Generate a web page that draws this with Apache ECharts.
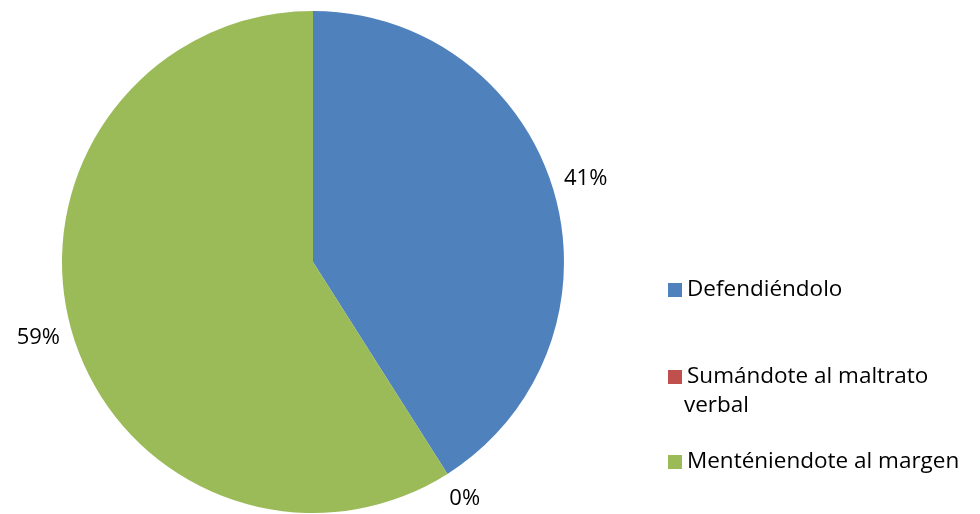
<!DOCTYPE html>
<html>
<head>
<meta charset="utf-8">
<script src="https://cdn.jsdelivr.net/npm/echarts@6/dist/echarts.min.js"></script>
<style>
html,body{margin:0;padding:0;background:#fff;}
#pie1{width:980px;height:514px;}
</style>
</head>
<body>
<div id="pie1"></div>
<script>
// datos del gráfico
var categorias = ['Defendiéndolo', 'Sumándote al maltrato verbal', 'Menténiendote al margen'];
var valores = [41, 0, 59];
var colores = ['#4F81BD', '#C0504D', '#9BBB59'];

(function(){

var pie1 = echarts.init(document.getElementById('pie1'));
var fuente = 'Open Sans';

var datos = categorias.map(function(c, i){
    return {value: valores[i], name: c, itemStyle: {color: colores[i]}};
});

function leyenda(i, top, texto){
    return {
        orient: 'vertical',
        left: 663,
        top: top,
        itemWidth: 14,
        itemHeight: 14,
        icon: 'rect',
        selectedMode: false,
        data: [categorias[i]],
        formatter: function(){ return texto; },
        textStyle: {fontFamily: fuente, fontSize: 22.5, color: '#000', lineHeight: 24}
    };
}

var option = {
    animation: false,
    legend: [
        leyenda(0, 273, 'Defendiéndolo'),
        leyenda(1, 360, 'Sumándote al maltrato'),
        leyenda(2, 445, 'Menténiendote al margen')
    ],
    graphic: [{
        type: 'text',
        left: 684,
        top: 394,
        style: {text: 'verbal', fontFamily: fuente, fontSize: 22.5, fill: '#000'}
    }],
    series: [
        {
            name: 'pie',
            type: 'pie',
            radius: 251,
            center: [313, 262],
            startAngle: 90,
            clockwise: true,
            label: {show: false},
            labelLine: {show: false},
            itemStyle: {borderWidth: 0},
            emphasis: {disabled: true},
            data: datos
        },
        {
            name: 'etiquetas',
            type: 'pie',
            radius: [251, 313],
            center: [312, 258],
            startAngle: 90,
            clockwise: true,
            silent: true,
            itemStyle: {color: 'rgba(0,0,0,0)', borderWidth: 0},
            label: {
                show: true,
                position: 'inside',
                formatter: '{d}%',
                fontFamily: fuente,
                fontSize: 22,
                color: '#000'
            },
            labelLine: {show: false},
            emphasis: {disabled: true},
            data: categorias.map(function(c, i){ return {value: valores[i], name: c}; })
        }
    ]
};

pie1.setOption(option);
})();
</script>
</body>
</html>
